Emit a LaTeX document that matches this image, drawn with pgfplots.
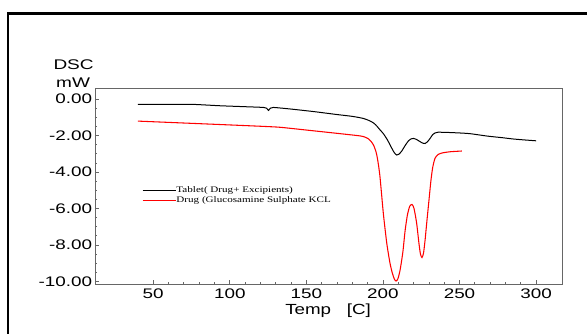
\documentclass[border=0pt]{standalone}
\usepackage{fontspec}
\setmainfont{Liberation Sans}
\newfontfamily\lsans[FakeStretch=1.36]{Liberation Sans}
\newfontfamily\lsanst[FakeStretch=1.28]{Liberation Sans}
\newfontfamily\lserif[FakeStretch=1.3]{Liberation Serif}
\usepackage{pgfplots}
\pgfplotsset{compat=1.18}
\begin{document}
\begin{tikzpicture}
\path[use as bounding box] (0pt,0pt) rectangle (440.25pt,249.75pt);
\draw[line width=2pt] (6pt,-2pt) -- (6pt,239.5pt) -- (445pt,239.5pt);
\begin{axis}[
  scale only axis, width=350.8pt, height=146.7pt,
  at={(71.25pt,36.5pt)}, anchor=south west,
  xmin=12, xmax=317.4, ymin=-10.16, ymax=0.565,
  xtick={50,100,...,300}, minor x tick num=4,
  ytick={-10,-8,...,0}, minor y tick num=3,
  tick pos=left, tick align=inside,
  major tick length=3pt, minor tick length=1.8pt,
  axis line style={gray!80!black, line width=0.6pt},
  tick style={gray!80!black, line width=0.5pt},
  /pgf/number format/assume math mode=true,
  ticklabel style={font=\lsans\fontsize{10.4}{12}\selectfont},
  xticklabel style={anchor=base, inner sep=0pt, yshift=-10.5pt},
  yticklabel style={anchor=east, inner sep=0pt, xshift=-2pt,
    /pgf/number format/.cd, fixed, fixed zerofill, precision=2},
  legend style={draw=none, fill=none, at={(0.1,0.453)}, anchor=west,
    inner sep=0pt, row sep=0pt,
    font=\lserif\fontsize{6.4}{7.5}\selectfont,
    nodes={inner sep=0pt, text height=4.8pt, text depth=2.7pt}},
  legend cell align=left,
  legend image code/.code={\draw[#1] (0pt,0pt) -- (25pt,0pt);},
  clip=false,
]
\addplot[black, line width=0.75pt, smooth, tension=0.4] coordinates {
(40,-0.29)(60,-0.29)(75,-0.29)(85,-0.33)(94,-0.37)(110,-0.42)(122,-0.46)(124,-0.5)(125.3,-0.62)(126.5,-0.5)(128.5,-0.46)(140,-0.55)(155,-0.69)(170,-0.85)(180,-0.95)(187,-1.06)(191,-1.18)(194,-1.32)(196,-1.48)(198,-1.68)(200.3,-1.9)(203,-2.25)(205.8,-2.7)(207.5,-2.95)(209,-3.07)(210.5,-3.02)(212.3,-2.85)(214.5,-2.55)(216.6,-2.3)(218.5,-2.18)(220,-2.16)(222,-2.22)(224.3,-2.34)(226,-2.42)(227.5,-2.44)(229,-2.35)(230.8,-2.16)(232.5,-1.95)(234,-1.86)(236,-1.82)(242,-1.83)(250,-1.86)(257,-1.9)(268,-2.03)(278,-2.12)(285,-2.19)(292,-2.24)(300,-2.29)
};
\addlegendentry{Tablet( Drug+ Excipients)}
\addplot[red, line width=0.8pt, smooth, tension=0.4] coordinates {
(40,-1.21)(60,-1.28)(80,-1.35)(100,-1.42)(122,-1.5)(133,-1.55)(150,-1.7)(170,-1.88)(185,-2.02)(188,-2.08)(190.5,-2.18)(192.5,-2.35)(194,-2.55)(195.5,-2.9)(196.5,-3.3)(198,-4.2)(200.3,-6.3)(202.5,-7.9)(204.5,-8.95)(206,-9.5)(207.5,-9.88)(208.6,-9.98)(209.8,-9.85)(211.2,-9.38)(213,-8.4)(214.5,-7.2)(216,-6.35)(217.5,-5.88)(219,-5.78)(220.3,-6.0)(222,-6.8)(223.5,-7.9)(224.5,-8.5)(225.5,-8.69)(226.5,-8.45)(227.5,-7.75)(228.7,-6.7)(230,-5.6)(231.3,-4.5)(232.5,-3.75)(234,-3.25)(236,-3.04)(239,-2.95)(244,-2.89)(251.5,-2.85)
};
\addlegendentry{Drug (Glucosamine Sulphate KCL}
\end{axis}
\node[font=\lsans\fontsize{10.5}{13}\selectfont, anchor=base, inner sep=0pt] at (55.2pt,197.8pt) {DSC};
\node[font=\lsans\fontsize{10.5}{13}\selectfont, anchor=base, inner sep=0pt] at (54.8pt,184.3pt) {mW};
\node[font=\lsanst\fontsize{11}{13}\selectfont, anchor=base west, inner sep=0pt] at (213.75pt,14.25pt) {Temp\ \ \ [C]};
\end{tikzpicture}
\end{document}
